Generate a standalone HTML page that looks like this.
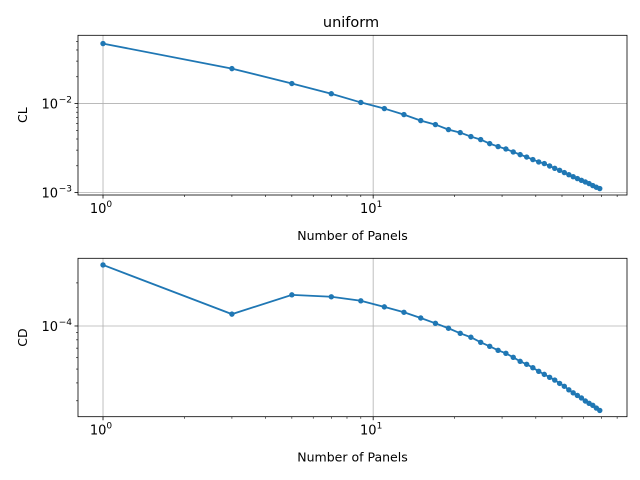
<!DOCTYPE html>
<html><head><meta charset="utf-8"><style>
html,body{margin:0;padding:0;background:#fff}
svg{display:block;font-family:"DejaVu Sans","Liberation Sans",sans-serif}
</style></head><body>
<svg id="chart" width="640" height="480" xmlns="http://www.w3.org/2000/svg">
<rect width="640" height="480" fill="#fff"/>
<text x="351" y="27" font-size="14.5" text-anchor="middle" fill="#000">uniform</text>
</svg>
<script>
const panels = [1,3,5,7,9,11,13,15,17,19,21,23,25,27,29,31,33,35,37,39,41,43,45,47,49,51,53,55,57,59,61,63,65,67,69];
const clValues = [0.0472,0.0247,0.0168,0.0129,0.0103,0.00879,0.00752,0.00644,0.00581,0.00510,0.00472,0.00426,0.00394,0.00355,0.00329,0.00309,0.00286,0.00267,0.00251,0.00235,0.00221,0.00212,0.00199,0.001875,0.00178,0.00168,0.00159,0.00151,0.001437,0.001375,0.001316,0.001262,0.00120,0.001148,0.00111];
const cdValues = [2.67e-4,1.21e-4,1.65e-4,1.60e-4,1.50e-4,1.36e-4,1.247e-4,1.137e-4,1.044e-4,9.64e-5,8.89e-5,8.34e-5,7.69e-5,7.21e-5,6.76e-5,6.44e-5,6.04e-5,5.66e-5,5.40e-5,5.11e-5,4.82e-5,4.59e-5,4.38e-5,4.19e-5,3.97e-5,3.79e-5,3.58e-5,3.41e-5,3.27e-5,3.14e-5,2.99e-5,2.88e-5,2.79e-5,2.67e-5,2.57e-5];
const xMajor = [1,10];
const xMajorLabels = ["0","1"];
const xMinor = [2,3,4,5,6,7,8,9,20,30,40,50,60,70,80];
const clMajor = [1e-3,1e-2];
const clMajorLabels = ["−3","−2"];
const clMinor = [2e-3,3e-3,4e-3,5e-3,6e-3,7e-3,8e-3,9e-3,2e-2,3e-2,4e-2,5e-2];
const cdMajor = [1e-4];
const cdMajorLabels = ["−4"];
const cdMinor = [3e-5,4e-5,5e-5,6e-5,7e-5,8e-5,9e-5,2e-4];

const NS="http://www.w3.org/2000/svg";
const svg=document.getElementById('chart');
function mk(tag,attrs,parent){const e=document.createElementNS(NS,tag);for(const k in attrs)e.setAttribute(k,attrs[k]);(parent||svg).appendChild(e);return e;}
const L=78,R=627;
const xLogMin=-0.0926,xLogMax=1.9396;
function xs(v){return L+(Math.log10(v)-xLogMin)/(xLogMax-xLogMin)*(R-L);}

function panel(name,top,bot,yLogMax,yLogMin,vals,major,majorLabels,minor,ylabel){
  const ys=v=>top+(yLogMax-Math.log10(v))/(yLogMax-yLogMin)*(bot-top);
  const g=mk('g',{});
  
  
  xMajor.forEach(v=>{const l=mk('line',{x1:xs(v),x2:xs(v),y1:top,y2:bot,stroke:'#b0b0b0','stroke-width':0.8},g);
    });
  major.forEach(v=>{const l=mk('line',{x1:L,x2:R,y1:ys(v),y2:ys(v),stroke:'#b0b0b0','stroke-width':0.8},g);
    });
  const pts=panels.map((n,i)=>xs(n).toFixed(2)+','+ys(vals[i]).toFixed(2)).join(' ');
  const pl=mk('polyline',{points:pts,fill:'none',stroke:'#1f77b4','stroke-width':1.8},g);
  
  
  panels.forEach((n,i)=>{const c=mk('circle',{cx:xs(n),cy:ys(vals[i]),r:2.7,fill:'#1f77b4'},g);
    
    });
  const fr=mk('rect',{x:L,y:top,width:R-L,height:bot-top,fill:'none',stroke:'#000','stroke-width':0.8},g);
  
  
  xMajor.forEach((v,i)=>{mk('line',{x1:xs(v),x2:xs(v),y1:bot,y2:bot+3.5,stroke:'#000','stroke-width':0.8},g);
    const t=mk('text',{x:xs(v)-2,y:bot+18,'font-size':13,'text-anchor':'middle'},g);
    
    t.textContent='10';const s=mk('tspan',{dy:-6,'font-size':9},t);s.textContent=xMajorLabels[i];});
  xMinor.forEach(v=>mk('line',{x1:xs(v),x2:xs(v),y1:bot,y2:bot+2,stroke:'#000','stroke-width':0.6},g));
  major.forEach((v,i)=>{mk('line',{x1:L,x2:L-3.5,y1:ys(v),y2:ys(v),stroke:'#000','stroke-width':0.8},g);
    const t=mk('text',{x:L-20,y:ys(v)+5,'font-size':13,'text-anchor':'end'},g);
    
    t.textContent='10';const s=mk('tspan',{x:L-6,dy:-6,'font-size':9,'text-anchor':'end'},t);s.textContent=majorLabels[i];});
  minor.forEach(v=>mk('line',{x1:L,x2:L-2,y1:ys(v),y2:ys(v),stroke:'#000','stroke-width':0.6},g));
  const xl=mk('text',{x:(L+R)/2,y:bot+45,'font-size':12.5,'text-anchor':'middle'},g);
  
  xl.textContent='Number of Panels';
  const cy=(top+bot)/2;
  const yl=mk('text',{x:27,y:cy,'font-size':12.5,'text-anchor':'middle',transform:'rotate(-90 27 '+cy+')'},g);
  
  yl.textContent=ylabel;
}
panel('cl',35.3,195,-1.233,-3.027,clValues,clMajor,clMajorLabels,clMinor,'CL');
panel('cd',258.3,416.7,-3.527,-4.634,cdValues,cdMajor,cdMajorLabels,cdMinor,'CD');
</script>
</body></html>
